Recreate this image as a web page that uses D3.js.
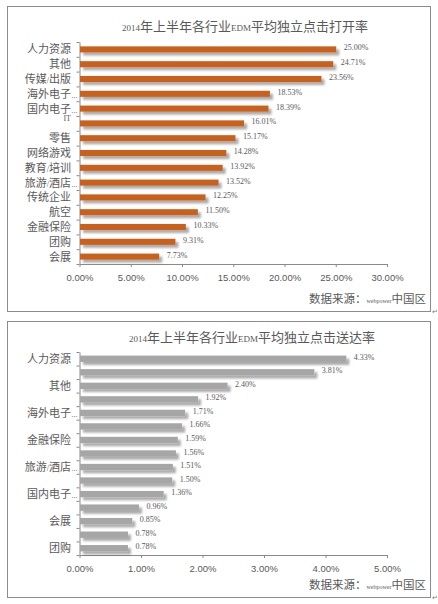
<!DOCTYPE html>
<html>
<head>
<meta charset="utf-8">
<script src="https://cdn.jsdelivr.net/npm/d3@7"></script>
<style>
  html, body { margin: 0; padding: 0; background: #fff; }
  svg { display: block; }
</style>
</head>
<body>
<svg id="chart" width="438" height="604"></svg>
<script>
// --- DATA ---
const openCats = ["人力资源", "其他", "传媒/出版", "海外电子...", "国内电子...", "IT", "零售", "网络游戏",
                  "教育/培训", "旅游/酒店...", "传统企业", "航空", "金融保险", "团购", "会展"];
const openVals = [25.00, 24.71, 23.56, 18.53, 18.39, 16.01, 15.17, 14.28, 13.92, 13.52, 12.25, 11.50, 10.33, 9.31, 7.73];
const openTicks = [0, 5, 10, 15, 20, 25, 30];

// every second label is skipped in the original, so the hidden names are a guess
const sendCats = ["人力资源", "传媒/出版", "其他", "IT", "海外电子...", "零售", "金融保险", "网络游戏",
                  "旅游/酒店...", "教育/培训", "国内电子...", "传统企业", "会展", "航空", "团购"];
const sendVals = [4.33, 3.81, 2.40, 1.92, 1.71, 1.66, 1.59, 1.56, 1.51, 1.50, 1.36, 0.96, 0.85, 0.78, 0.78];
const sendTicks = [0, 1, 2, 3, 4, 5];

const CJK = "'Noto Sans CJK SC', 'Noto Sans', sans-serif";
const SERIF = "'Liberation Serif', 'DejaVu Serif', serif";
const SANS = "'Liberation Sans', Arial, sans-serif";
const TXT = "#595959";
const AXIS = "#8a8a8a";

const svg = d3.select("#chart");

// soft shadow under the bars
svg.append("defs").append("filter")
    .attr("id", "barShadow")
    .attr("x", "-5%").attr("y", "-50%").attr("width", "115%").attr("height", "250%")
    .append("feDropShadow")
    .attr("dx", 3).attr("dy", 3).attr("stdDeviation", 1.1)
    .attr("flood-color", "#000").attr("flood-opacity", 0.33);

// split a string into CJK / latin runs, latin gets the small serif face like the original
function mixText(sel, str, cjkSize, latSize) {
    const runs = str.match(/[\x00-\x7F]+|[^\x00-\x7F]+/g) || [];
    runs.forEach(r => {
        const t = sel.append("tspan").text(r);
        if (/^[\x00-\x7F]+$/.test(r)) t.attr("font-family", SERIF).attr("font-size", latSize);
        else t.attr("font-family", CJK).attr("font-size", cjkSize);
    });
}

function drawChart(cfg) {
    const g = svg.append("g");

    // frame
    g.append("rect")
        .attr("x", cfg.box[0] + 0.5).attr("y", cfg.box[1] + 0.5)
        .attr("width", cfg.box[2]).attr("height", cfg.box[3])
        .attr("fill", "#fff").attr("stroke", "#8c8c8c").attr("stroke-width", 1);

    // paragraph mark left by the word processor
    g.append("text")
        .attr("x", cfg.box[0] + cfg.box[2] + 2).attr("y", cfg.box[1] + cfg.box[3] + 3)
        .attr("font-family", "'DejaVu Sans', sans-serif").attr("font-size", 7)
        .attr("fill", "#777").text("↵");

    // title
    const title = g.append("text")
        .attr("x", cfg.titleX).attr("y", cfg.titleY)
        .attr("text-anchor", "middle").attr("fill", TXT);
    mixText(title, cfg.title, 13, 9);

    const x = d3.scaleLinear()
        .domain([0, d3.max(cfg.ticks)])
        .range([cfg.left, cfg.right]);

    const y = d3.scaleBand()
        .domain(cfg.cats)
        .range([cfg.top, cfg.bottom])
        .paddingInner(cfg.pad)
        .paddingOuter(cfg.pad / 2);

    // boundary ticks of the category axis
    const yIdx = d3.scaleLinear().domain([0, cfg.cats.length]).range([cfg.top, cfg.bottom]);
    const yAxis = g.append("g")
        .attr("transform", `translate(${cfg.left},0)`)
        .call(d3.axisLeft(yIdx).tickValues(d3.range(cfg.cats.length + 1)).tickSize(3).tickSizeOuter(0).tickFormat(""));

    const xAxis = g.append("g")
        .attr("transform", `translate(0,${cfg.bottom})`)
        .call(d3.axisBottom(x).tickValues(cfg.ticks).tickSize(3).tickSizeOuter(0)
            .tickFormat(d => d.toFixed(2) + "%"));

    [xAxis, yAxis].forEach(a => {
        a.selectAll("path, line").attr("stroke", AXIS);
    });
    xAxis.selectAll("text")
        .attr("font-family", SANS).attr("font-size", 9.5).attr("fill", TXT)
        .attr("dy", null).attr("y", 17);

    // bars
    g.append("g").selectAll("rect")
        .data(cfg.vals)
        .join("rect")
        .attr("x", cfg.left + 0.5)
        .attr("y", (d, i) => y(cfg.cats[i]))
        .attr("width", d => x(d) - cfg.left)
        .attr("height", y.bandwidth())
        .attr("fill", cfg.color)
        .attr("filter", "url(#barShadow)");

    // value labels
    g.append("g").selectAll("text")
        .data(cfg.vals)
        .join("text")
        .attr("x", d => x(d) + 8)
        .attr("y", (d, i) => y(cfg.cats[i]) + y.bandwidth() / 2 + 1)
        .attr("font-family", SERIF).attr("font-size", 8).attr("fill", TXT)
        .text(d => d.toFixed(2) + "%");

    // category labels
    cfg.cats.forEach((c, i) => {
        if (i % cfg.labelStep !== 0) return;
        const cy = y(c) + y.bandwidth() / 2;
        const pureLatin = /^[\x00-\x7F]+$/.test(c);
        const dots = c.endsWith("...");
        const name = dots ? c.slice(0, -3) : c;
        const t = g.append("text")
            .attr("x", cfg.labelX)
            .attr("y", pureLatin ? cy - 2 : cy + 4)
            .attr("text-anchor", "end").attr("fill", TXT);
        mixText(t, name, 11, 8);
        if (dots) {
            g.append("text")
                .attr("x", cfg.labelX + 0.5).attr("y", cy + 4)
                .attr("font-family", SERIF).attr("font-size", 8).attr("fill", TXT)
                .text("...");
        }
    });

    // source note
    const src = g.append("text")
        .attr("x", 426).attr("y", cfg.srcY)
        .attr("text-anchor", "end").attr("fill", TXT);
    mixText(src, "数据来源：webpower中国区", 11.5, 6);
}

drawChart({
    box: [7, 6, 423, 305],
    title: "2014年上半年各行业EDM平均独立点击打开率",
    titleX: 245, titleY: 31,
    cats: openCats, vals: openVals, ticks: openTicks,
    left: 79.5, right: 387, top: 42, bottom: 264,
    pad: 0.59, color: "#c9601f",
    labelX: 71, labelStep: 1,
    srcY: 303
});

drawChart({
    box: [7, 321, 423, 276],
    title: "2014年上半年各行业EDM平均独立点击送达率",
    titleX: 252, titleY: 342,
    cats: sendCats, vals: sendVals, ticks: sendTicks,
    left: 79.5, right: 387, top: 352, bottom: 555,
    pad: 0.53, color: "#a6a6a6",
    labelX: 71, labelStep: 2,
    srcY: 589
});
</script>
</body>
</html>
